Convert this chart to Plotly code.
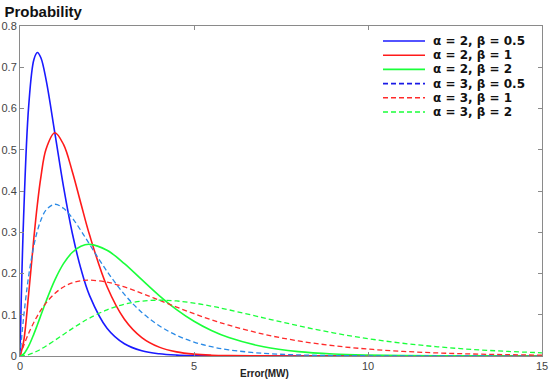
import plotly.graph_objects as go

# Error (MW) sample positions read along the x axis
error_mw = [0, 0.1, 0.25, 0.4, 0.5, 0.6, 0.75, 1, 1.25, 1.5, 1.75, 2, 2.5, 3, 3.5,
            4, 4.5, 5, 5.5, 6, 7, 8, 9, 10, 11, 12, 13, 14, 15]

# Probability values, one list per curve
blue_solid = [0, 0.3275, 0.6065, 0.7189, 0.7358, 0.7229, 0.6694, 0.5413, 0.4104, 0.2987,
              0.2114, 0.1465, 0.0674, 0.0297, 0.0128, 0.0054, 0.0022, 0.0009, 0.0004,
              0.0001, 0, 0, 0, 0, 0, 0, 0, 0, 0]
red_solid = [0, 0.0327, 0.1516, 0.2876, 0.3679, 0.4337, 0.5020, 0.5413, 0.5130, 0.4481,
             0.3699, 0.2931, 0.1684, 0.0892, 0.0447, 0.0215, 0.0100, 0.0045, 0.0020,
             0.0009, 0.0002, 0, 0, 0, 0, 0, 0, 0, 0]
green_solid = [0, 0.0045, 0.0243, 0.0536, 0.0758, 0.0988, 0.1329, 0.1839, 0.2238, 0.2510,
               0.2661, 0.2707, 0.2565, 0.2240, 0.1850, 0.1465, 0.1125, 0.0842, 0.0618,
               0.0446, 0.0223, 0.0107, 0.0050, 0.0023, 0.0010, 0.0004, 0.0002, 0.0001, 0]
blue_dashed = [0, 0.0905, 0.1947, 0.2681, 0.3033, 0.3293, 0.3543, 0.3679, 0.3581, 0.3347,
               0.3041, 0.2707, 0.2052, 0.1494, 0.1057, 0.0733, 0.0500, 0.0337, 0.0225,
               0.0149, 0.0064, 0.0027, 0.0011, 0.0005, 0.0002, 0.0001, 0, 0, 0]
red_dashed = [0, 0.0238, 0.0552, 0.0819, 0.0974, 0.1111, 0.1289, 0.1516, 0.1673, 0.1771,
              0.1824, 0.1839, 0.1791, 0.1673, 0.1520, 0.1353, 0.1186, 0.1026, 0.0879,
              0.0747, 0.0528, 0.0366, 0.0250, 0.0168, 0.0112, 0.0074, 0.0049, 0.0032, 0.0021]
green_dashed = [0, 0.0006, 0.0034, 0.0082, 0.0122, 0.0167, 0.0242, 0.0379, 0.0523, 0.0664,
                0.0798, 0.0920, 0.1119, 0.1255, 0.1330, 0.1353, 0.1334, 0.1283, 0.1209,
                0.1120, 0.0925, 0.0733, 0.0562, 0.0421, 0.0309, 0.0223, 0.0159, 0.0112, 0.0078]

legend_labels = ["α = 2, β = 0.5", "α = 2, β = 1", "α = 2, β = 2",
                 "α = 3, β = 0.5", "α = 3, β = 1", "α = 3, β = 2"]

x_ticks = [0, 5, 10, 15]
y_ticks = [0, 0.1, 0.2, 0.3, 0.4, 0.5, 0.6, 0.7, 0.8]

series = [
    (blue_solid, "#1a1aff", "solid", 1.6),
    (red_solid, "#ff1a1a", "solid", 1.6),
    (green_solid, "#1aff3a", "solid", 1.6),
    (blue_dashed, "#2a8ae6", "5px,3px", 1.3),
    (red_dashed, "#ff2a2a", "5px,3px", 1.3),
    (green_dashed, "#1aff3a", "5px,3px", 1.3),
]
legend_colors = ["#1a1aff", "#ff1a1a", "#1aff3a", "#1a1ae6", "#ff2a2a", "#1aff3a"]

# plot area in pixels (for placing the legend block)
L, R, T, B = 20, 542, 26, 356
PW, PH = R - L, B - T

fig = go.Figure()
for (vals, col, dash, w), lab in zip(series, legend_labels):
    fig.add_trace(go.Scatter(x=error_mw, y=vals, mode="lines", line_shape="spline",
                             line=dict(color=col, dash=dash, width=w),
                             name=lab, showlegend=False, hoverinfo="skip"))

shapes = []
annotations = []
row_y = [41, 55.2, 69.4, 83.6, 97.8, 112]
for (vals, col, dash, w), lab, lcol, py in zip(series, legend_labels, legend_colors, row_y):
    yp = (B - py) / PH
    shapes.append(dict(type="line", xref="paper", yref="paper",
                       x0=(383 - L) / PW, x1=(425 - L) / PW, y0=yp, y1=yp,
                       line=dict(color=lcol, dash=dash, width=1.6)))
    annotations.append(dict(text="<b>" + lab + "</b>", xref="paper", yref="paper",
                            x=(432 - L) / PW, y=yp, xanchor="left", yanchor="middle",
                            showarrow=False, borderpad=0,
                            font=dict(family="DejaVu Sans", size=12,
                                      color="#111111")))

annotations.append(dict(text="<b>Error(MW)</b>", xref="paper", yref="paper",
                        x=(264 - L) / PW, y=-(373 - B) / PH, xanchor="center",
                        yanchor="middle", showarrow=False,
                        font=dict(family="Liberation Sans, Arial", size=10, color="#222222")))

axis_common = dict(showline=True, linecolor="#8a8a8a", linewidth=1, mirror="ticks",
                   ticks="inside", ticklen=4, tickcolor="#8a8a8a", showgrid=False,
                   zeroline=False, automargin=False,
                   tickfont=dict(family="Liberation Sans, Arial", size=11, color="#444444"))

fig.update_layout(
    width=550, height=382,
    margin=dict(l=L, r=550 - R, t=T, b=382 - B, autoexpand=False),
    paper_bgcolor="white", plot_bgcolor="white",
    showlegend=False,
    xaxis=dict(range=[0, 15], tickvals=x_ticks, ticklabelstandoff=0, **axis_common),
    yaxis=dict(range=[0, 0.8], tickvals=y_ticks, ticklabelstandoff=0, **axis_common),
    title=dict(text="<b>Probability</b>", xref="container", x=0.008, xanchor="left",
               yref="container", y=0.97, yanchor="middle",
               font=dict(family="Liberation Sans, Arial", size=15, color="#111111")),
    shapes=shapes,
    annotations=annotations,
)

fig.write_html("out.html", config={"displayModeBar": False},
               post_script="document.body.style.margin='0';document.body.style.overflow='hidden';")
